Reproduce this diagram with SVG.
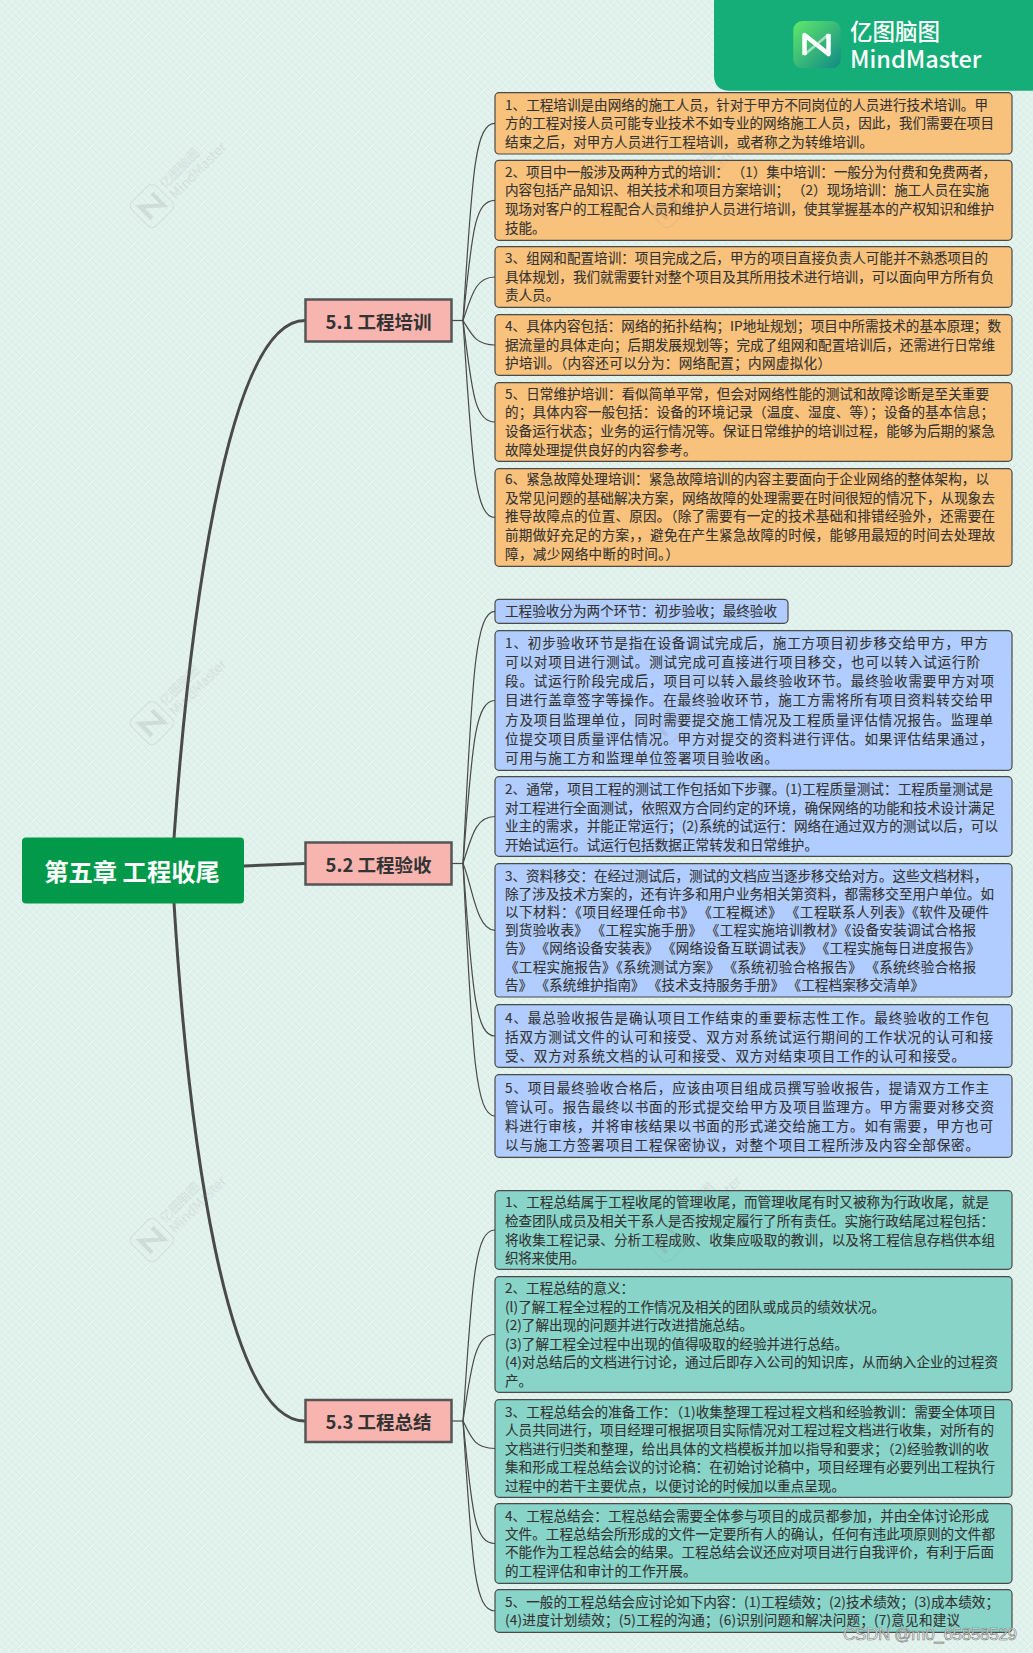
<svg xmlns="http://www.w3.org/2000/svg" width="1033" height="1653" viewBox="0 0 1033 1653">
<style>
text{font-family:"Noto Sans CJK SC","Noto Sans",sans-serif}
.n{stroke:#4a4a4a;stroke-width:1.2}
.o{fill:#f9c27c}.b{fill:#b1cdff}.t{fill:#89d4c8}
.l{font-size:13.55px;fill:#333;stroke:#333;stroke-width:.12}
.s{fill:#f8b5b0;stroke:#555;stroke-width:2.5}
.st{font-size:18.5px;font-weight:700;fill:#333;text-anchor:middle}
.c1{fill:none;stroke:#4a4a4a;stroke-width:1.2}
.c2{fill:none;stroke:#4a4a4a;stroke-width:3}
.wt{fill:#888;opacity:.9}
</style>
<defs>
<pattern id="linen" width="14" height="14" patternUnits="userSpaceOnUse">
<path d="M-2 2L2 -2M0 14L14 0M12 16L16 12M-2 9L9 -2M5 16L16 5" stroke="#fff" stroke-width=".7" opacity=".5"/>
<path d="M-2 12L2 16M0 0L14 14M12 -2L16 2M-2 5L9 16M5 -2L16 9" stroke="#bcd9d1" stroke-width=".6" opacity=".45"/>
</pattern>
<linearGradient id="ig" x1="0" y1="0" x2="1" y2="1"><stop offset="0" stop-color="#62e86c"/><stop offset="1" stop-color="#0f8a86"/></linearGradient>
<g id="wm" transform="rotate(-45)" opacity=".16">
<rect x="-17" y="-17" width="34" height="34" rx="6" fill="none" stroke="#888" stroke-width="1"/>
<path d="M-9 9V-8L9 8V-9" fill="none" stroke="#777" stroke-width="4"/>
<text x="21" y="-2.5" font-size="12.5" class="wt">亿图脑图</text>
<text x="21" y="12" font-size="13.5" class="wt">MindMaster</text>
</g>
</defs>
<rect width="1033" height="1653" fill="#e1f1ec"/>
<rect width="1033" height="1653" fill="url(#linen)"/>
<g id="connectors">
<path class="c2" d="M174 838C188 640 225 320 305 320.500"/>
<path class="c2" d="M244 866L305 863.500"/>
<path class="c2" d="M174 903C188 1130 225 1421 305 1421"/>
<path class="c1" d="M452 320.500H463"/>
<path class="c1" d="M463 320.500C472 181 474 123.300 495 123.300"/>
<path class="c1" d="M463 320.500C472 235 474 200.300 495 200.300"/>
<path class="c1" d="M463 320.500C472 294 476 277 495 277"/>
<path class="c1" d="M463 320.500C472 335 476 345 495 345"/>
<path class="c1" d="M463 320.500C472 390 474 422 495 422"/>
<path class="c1" d="M463 320.500C472 457 474 517.500 495 517.500"/>
<path class="c1" d="M452 863.500H463"/>
<path class="c1" d="M463 863.500C472 689 474 611.300 495 611.300"/>
<path class="c1" d="M463 863.500C472 752 474 700.500 495 700.500"/>
<path class="c1" d="M463 863.500C472 835 476 816.500 495 816.500"/>
<path class="c1" d="M463 863.500C472 884 476 930.300 495 930.300"/>
<path class="c1" d="M463 863.500C472 980 474 1036 495 1036"/>
<path class="c1" d="M463 863.500C472 1040 474 1116 495 1116"/>
<path class="c1" d="M452 1421H463"/>
<path class="c1" d="M463 1421C472 1287 474 1230 495 1230"/>
<path class="c1" d="M463 1421C472 1360 476 1334.500 495 1334.500"/>
<path class="c1" d="M463 1421C472 1440 476 1448.500 495 1448.500"/>
<path class="c1" d="M463 1421C472 1510 474 1543.500 495 1543.500"/>
<path class="c1" d="M463 1421C472 1560 474 1611 495 1611"/>
</g>
<g id="root"><rect x="22" y="837.500" width="222" height="66" rx="4" fill="#029a4a"/><text x="132" y="881" font-size="24.300" font-weight="700" fill="#fff" text-anchor="middle">第五章 工程收尾</text></g>
<g id="s1"><rect class="s" x="305.500" y="299.500" width="146" height="42"/><text class="st" x="378.500" y="328.500">5.1 工程培训</text></g>
<g id="s2"><rect class="s" x="305.500" y="842.500" width="146" height="42"/><text class="st" x="378.500" y="871.500">5.2 工程验收</text></g>
<g id="s3"><rect class="s" x="305.500" y="1400" width="146" height="42"/><text class="st" x="378.500" y="1428.500">5.3 工程总结</text></g>
<g id="a1"><rect class="n o" x="495" y="92.700" width="517" height="61.300" rx="4"/><text class="l" x="505" y="109.500" textLength="483">1、工程培训是由网络的施工人员，针对于甲方不同岗位的人员进行技术培训。甲</text><text class="l" x="505" y="128.200" textLength="489">方的工程对接人员可能专业技术不如专业的网络施工人员，因此，我们需要在项目</text><text class="l" x="505" y="146.900" textLength="368">结束之后，对甲方人员进行工程培训，或者称之为转维培训。</text></g>
<g id="a2"><rect class="n o" x="495" y="160.300" width="517" height="80" rx="4"/><text class="l" x="505" y="176.500" textLength="491">2、项目中一般涉及两种方式的培训： （1）集中培训：一般分为付费和免费两者，</text><text class="l" x="505" y="195.200" textLength="484">内容包括产品知识、相关技术和项目方案培训； （2）现场培训：施工人员在实施</text><text class="l" x="505" y="213.900" textLength="489">现场对客户的工程配合人员和维护人员进行培训，使其掌握基本的产权知识和维护</text><text class="l" x="505" y="232.600">技能。</text></g>
<g id="a3"><rect class="n o" x="495" y="246.700" width="517" height="60.600" rx="4"/><text class="l" x="505" y="263" textLength="483">3、组网和配置培训：项目完成之后，甲方的项目直接负责人可能并不熟悉项目的</text><text class="l" x="505" y="281.700" textLength="489">具体规划，我们就需要针对整个项目及其所用技术进行培训，可以面向甲方所有负</text><text class="l" x="505" y="300.400">责人员。</text></g>
<g id="a4"><rect class="n o" x="495" y="314.700" width="517" height="60.600" rx="4"/><text class="l" x="505" y="331" textLength="496">4、具体内容包括：网络的拓扑结构；IP地址规划；项目中所需技术的基本原理；数</text><text class="l" x="505" y="349.700" textLength="490">据流量的具体走向；后期发展规划等；完成了组网和配置培训后，还需进行日常维</text><text class="l" x="505" y="368.400" textLength="326">护培训。（内容还可以分为：网络配置；内网虚拟化）</text></g>
<g id="a5"><rect class="n o" x="495" y="382.700" width="517" height="78.600" rx="4"/><text class="l" x="505" y="398.500" textLength="484">5、日常维护培训：看似简单平常，但会对网络性能的测试和故障诊断是至关重要</text><text class="l" x="505" y="417.200" textLength="489">的；具体内容一般包括：设备的环境记录（温度、湿度、等）；设备的基本信息；</text><text class="l" x="505" y="435.900" textLength="490">设备运行状态；业务的运行情况等。保证日常维护的培训过程，能够为后期的紧急</text><text class="l" x="505" y="454.600" textLength="191.500">故障处理提供良好的内容参考。</text></g>
<g id="a6"><rect class="n o" x="495" y="468.700" width="517" height="97.600" rx="4"/><text class="l" x="505" y="484" textLength="484">6、紧急故障处理培训：紧急故障培训的内容主要面向于企业网络的整体架构，以</text><text class="l" x="505" y="502.700" textLength="490">及常见问题的基础解决方案，网络故障的处理需要在时间很短的情况下，从现象去</text><text class="l" x="505" y="521.400" textLength="490">推导故障点的位置、原因。（除了需要有一定的技术基础和排错经验外，还需要在</text><text class="l" x="505" y="540.100" textLength="490">前期做好充足的方案，，避免在产生紧急故障的时候，能够用最短的时间去处理故</text><text class="l" x="505" y="558.800" textLength="174">障，减少网络中断的时间。）</text></g>
<g id="b0"><rect class="n b" x="495" y="599.300" width="293" height="24" rx="4"/><text class="l" x="505" y="616" textLength="272">工程验收分为两个环节：初步验收；最终验收</text></g>
<g id="b1"><rect class="n b" x="495" y="630.700" width="517" height="139.600" rx="4"/><text class="l" x="505" y="648" textLength="483">1、初步验收环节是指在设备调试完成后，施工方项目初步移交给甲方，甲方</text><text class="l" x="505" y="666.700" textLength="475">可以对项目进行测试。测试完成可直接进行项目移交，也可以转入试运行阶</text><text class="l" x="505" y="686" textLength="489">段。试运行阶段完成后，项目可以转入最终验收环节。最终验收需要甲方对项</text><text class="l" x="505" y="705" textLength="488">目进行盖章签字等操作。在最终验收环节，施工方需将所有项目资料转交给甲</text><text class="l" x="505" y="725" textLength="488">方及项目监理单位，同时需要提交施工情况及工程质量评估情况报告。监理单</text><text class="l" x="505" y="744" textLength="488">位提交项目质量评估情况。甲方对提交的资料进行评估。如果评估结果通过，</text><text class="l" x="505" y="763" textLength="273">可用与施工方和监理单位签署项目验收函。</text></g>
<g id="b2"><rect class="n b" x="495" y="776.700" width="517" height="79.600" rx="4"/><text class="l" x="505" y="794" textLength="488">2、通常，项目工程的测试工作包括如下步骤。(1)工程质量测试：工程质量测试是</text><text class="l" x="505" y="813" textLength="490">对工程进行全面测试，依照双方合同约定的环境，确保网络的功能和技术设计满足</text><text class="l" x="505" y="831" textLength="493">业主的需求，并能正常运行；(2)系统的试运行：网络在通过双方的测试以后，可以</text><text class="l" x="505" y="849.500" textLength="313">开始试运行。试运行包括数据正常转发和日常维护。</text></g>
<g id="b3"><rect class="n b" x="495" y="863.700" width="517" height="133.300" rx="4"/><text class="l" x="505" y="880.500" textLength="482.500">3、资料移交：在经过测试后，测试的文档应当逐步移交给对方。这些文档材料，</text><text class="l" x="505" y="898.500" textLength="489">除了涉及技术方案的，还有许多和用户业务相关第资料，都需移交至用户单位。如</text><text class="l" x="505" y="917" textLength="484">以下材料：《项目经理任命书》 《工程概述》 《工程联系人列表》《软件及硬件</text><text class="l" x="505" y="935" textLength="471">到货验收表》 《工程实施手册》 《工程实施培训教材》《设备安装调试合格报</text><text class="l" x="505" y="953" textLength="475">告》 《网络设备安装表》 《网络设备互联调试表》 《工程实施每日进度报告》</text><text class="l" x="505" y="972" textLength="471">《工程实施报告》《系统测试方案》 《系统初验合格报告》 《系统终验合格报</text><text class="l" x="505" y="990" textLength="419">告》 《系统维护指南》 《技术支持服务手册》 《工程档案移交清单》</text></g>
<g id="b4"><rect class="n b" x="495" y="1004.700" width="517" height="62.600" rx="4"/><text class="l" x="505" y="1022.500" textLength="484">4、最总验收报告是确认项目工作结束的重要标志性工作。最终验收的工作包</text><text class="l" x="505" y="1041.500" textLength="488">括双方测试文件的认可和接受、双方对系统试运行期间的工作状况的认可和接</text><text class="l" x="505" y="1061" textLength="460">受、双方对系统文档的认可和接受、双方对结束项目工作的认可和接受。</text></g>
<g id="b5"><rect class="n b" x="495" y="1074.700" width="517" height="82.600" rx="4"/><text class="l" x="505" y="1093" textLength="484">5、项目最终验收合格后，应该由项目组成员撰写验收报告，提请双方工作主</text><text class="l" x="505" y="1112" textLength="489">管认可。报告最终以书面的形式提交给甲方及项目监理方。甲方需要对移交资</text><text class="l" x="505" y="1131" textLength="488">料进行审核，并将审核结果以书面的形式递交给施工方。如有需要，甲方也可</text><text class="l" x="505" y="1150" textLength="474">以与施工方签署项目工程保密协议，对整个项目工程所涉及内容全部保密。</text></g>
<g id="c1"><rect class="n t" x="495" y="1190.700" width="517" height="78.600" rx="4"/><text class="l" x="505" y="1207" textLength="484">1、工程总结属于工程收尾的管理收尾，而管理收尾有时又被称为行政收尾，就是</text><text class="l" x="505" y="1225.500" textLength="489">检查团队成员及相关干系人是否按规定履行了所有责任。实施行政结尾过程包括：</text><text class="l" x="505" y="1244.500" textLength="490">将收集工程记录、分析工程成败、收集应吸取的教训，以及将工程信息存档供本组</text><text class="l" x="505" y="1262.500" textLength="80">织将来使用。</text></g>
<g id="c2"><rect class="n t" x="495" y="1276.700" width="517" height="115.600" rx="4"/><text class="l" x="505" y="1293" textLength="129">2、工程总结的意义：</text><text class="l" x="505" y="1312" textLength="380">(l)了解工程全过程的工作情况及相关的团队或成员的绩效状况。</text><text class="l" x="505" y="1330" textLength="248">(2)了解出现的问题并进行改进措施总结。</text><text class="l" x="505" y="1349" textLength="343">(3)了解工程全过程中出现的值得吸取的经验并进行总结。</text><text class="l" x="505" y="1367" textLength="493">(4)对总结后的文档进行讨论，通过后即存入公司的知识库，从而纳入企业的过程资</text><text class="l" x="505" y="1385.500">产。</text></g>
<g id="c3"><rect class="n t" x="495" y="1399.700" width="517" height="97.600" rx="4"/><text class="l" x="505" y="1417" textLength="491">3、工程总结会的准备工作：（1)收集整理工程过程文档和经验教训：需要全体项目</text><text class="l" x="505" y="1435" textLength="489">人员共同进行，项目经理可根据项目实际情况对工程过程文档进行收集，对所有的</text><text class="l" x="505" y="1453.500" textLength="484">文档进行归类和整理，给出具体的文档模板并加以指导和要求；（2)经验教训的收</text><text class="l" x="505" y="1472" textLength="490">集和形成工程总结会议的讨论稿：在初始讨论稿中，项目经理有必要列出工程执行</text><text class="l" x="505" y="1490.500" textLength="340">过程中的若干主要优点，以便讨论的时候加以重点呈现。</text></g>
<g id="c4"><rect class="n t" x="495" y="1503.700" width="517" height="79.600" rx="4"/><text class="l" x="505" y="1521" textLength="484">4、工程总结会：工程总结会需要全体参与项目的成员都参加，并由全体讨论形成</text><text class="l" x="505" y="1539" textLength="490">文件。工程总结会所形成的文件一定要所有人的确认，任何有违此项原则的文件都</text><text class="l" x="505" y="1557" textLength="489">不能作为工程总结会的结果。工程总结会议还应对项目进行自我评价，有利于后面</text><text class="l" x="505" y="1576" textLength="191.500">的工程评估和审计的工作开展。</text></g>
<g id="c5"><rect class="n t" x="495" y="1589.700" width="517" height="42.600" rx="4"/><text class="l" x="505" y="1607" textLength="494">5、一般的工程总结会应讨论如下内容：(1)工程绩效；(2)技术绩效；(3)成本绩效；</text><text class="l" x="505" y="1625" textLength="455">(4)进度计划绩效；(5)工程的沟通；(6)识别问题和解决问题；(7)意见和建议</text></g>
<g id="brand">
<path d="M714 0H1033V90.700H730Q714 90.700 714 74.700Z" fill="#15ae78"/>
<rect x="793.300" y="21" width="47.400" height="47.300" rx="9" fill="url(#ig)"/>
<path d="M804 34L829 55" fill="none" stroke="#fff" stroke-width="2.500" opacity=".55"/>
<path d="M829 34L804 55" fill="none" stroke="#fff" stroke-width="2.500" opacity=".55"/>
<path d="M804.500 55V35L828.500 54V34" fill="none" stroke="#fff" stroke-width="4.500" stroke-linejoin="round"/>
<text x="850" y="40" font-size="22.500" fill="#fff" font-weight="500">亿图脑图</text>
<text x="850" y="67.500" font-size="23.500" fill="#fff" font-weight="500">MindMaster</text>
</g>
<g id="watermarks">
<use href="#wm" transform="translate(152 206)"/>
<use href="#wm" transform="translate(152 723)"/>
<use href="#wm" transform="translate(152 1240)"/>
<use href="#wm" transform="translate(667 206)"/>
<use href="#wm" transform="translate(667 723)"/>
<use href="#wm" transform="translate(667 1240)"/>
</g>
<text x="843" y="1640" font-size="17" textLength="174" style="font-family:'Liberation Sans',sans-serif" fill="#fff" fill-opacity=".75" stroke="#777" stroke-width=".6">CSDN @m0_65858529</text>
</svg>
